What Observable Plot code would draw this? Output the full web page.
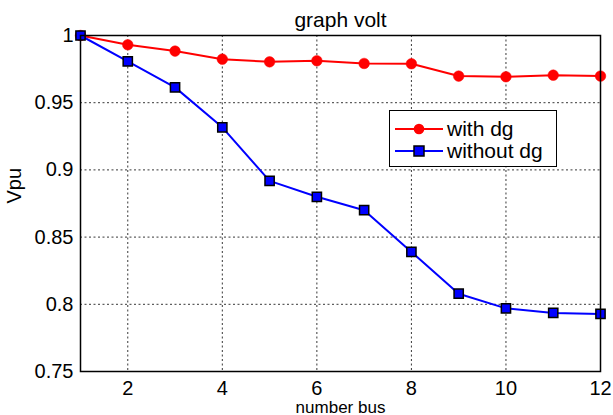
<!DOCTYPE html>
<html>
<head>
<meta charset="utf-8">
<script src="https://cdn.jsdelivr.net/npm/d3@7"></script>
<script src="https://cdn.jsdelivr.net/npm/@observablehq/plot@0.6"></script>
<style>
  html, body { margin: 0; padding: 0; background: white; }
  #wrap { position: relative; width: 613px; height: 415px; font-family: "Liberation Sans", Arial, sans-serif; }
  #legend { position: absolute; left: 389px; top: 110px; width: 166px; height: 55px; border: 1px solid black; background: white; }
  .row { position: absolute; left: 0; height: 22px; display: flex; align-items: center; font-size: 21px; }
  .row svg { margin-left: 5px; margin-right: 4px; }
</style>
</head>
<body>
<div id="wrap"></div>
<script>
const bus = [1, 2, 3, 4, 5, 6, 7, 8, 9, 10, 11, 12];
const withDg = [1.0, 0.9931, 0.9884, 0.9824, 0.9804, 0.9812, 0.9792, 0.979, 0.9698, 0.9693, 0.9705, 0.9698];
const withoutDg = [1.0, 0.9807, 0.9614, 0.9317, 0.8918, 0.88, 0.870, 0.839, 0.8079, 0.797, 0.7936, 0.7928];
const seriesNames = ["with dg", "without dg"];
const seriesColors = ["#ff0000", "#0000ff"];
const xTicks = [2, 4, 6, 8, 10, 12];
const yTicks = [0.75, 0.8, 0.85, 0.9, 0.95, 1];
const titleText = "graph volt";
const xLabel = "number bus";
const yLabel = "Vpu";

const data = [
  ...bus.map((b, i) => ({bus: b, v: withDg[i], s: seriesNames[0]})),
  ...bus.map((b, i) => ({bus: b, v: withoutDg[i], s: seriesNames[1]}))
];
const s0 = data.filter(d => d.s === seriesNames[0]);
const s1 = data.filter(d => d.s === seriesNames[1]);

const chart = Plot.plot({
  width: 613,
  height: 415,
  marginLeft: 80,
  marginRight: 13,
  marginTop: 35,
  marginBottom: 44,
  style: {fontFamily: "Liberation Sans, Arial, sans-serif", fontSize: "20px", background: "white", color: "black"},
  x: {domain: [1, 12]},
  y: {domain: [0.75, 1]},
  marks: [
    Plot.gridX(xTicks, {stroke: "#222", strokeOpacity: 0.9, strokeDasharray: "2,2.5"}),
    Plot.gridY(yTicks, {stroke: "#222", strokeOpacity: 0.9, strokeDasharray: "2,2.5"}),
    Plot.axisX({ticks: xTicks, tickSize: 0, tickPadding: 9, label: null, fontSize: 20}),
    Plot.axisY({ticks: yTicks, tickSize: 0, tickPadding: 7, label: null, fontSize: 20, tickFormat: d => String(+d.toFixed(2))}),
    Plot.line(s0, {x: "bus", y: "v", stroke: seriesColors[0], strokeWidth: 2}),
    Plot.line(s1, {x: "bus", y: "v", stroke: seriesColors[1], strokeWidth: 2}),
    Plot.dot(s0, {x: "bus", y: "v", fill: seriesColors[0], r: 5.3, stroke: seriesColors[0], strokeWidth: 0.5}),
    Plot.dot(s1, {x: "bus", y: "v", fill: seriesColors[1], symbol: "square", r: 5.2, stroke: "black", strokeWidth: 1.5}),
    Plot.frame({stroke: "black", strokeWidth: 1.5}),
    Plot.text([titleText], {text: d => d, frameAnchor: "top", dy: -23, fontSize: 21}),
    Plot.text([xLabel], {text: d => d, frameAnchor: "bottom", dy: 41, fontSize: 17}),
    Plot.text([yLabel], {text: d => d, frameAnchor: "left", dx: -66, rotate: -90, fontSize: 20})
  ]
});
const wrap = document.getElementById("wrap");
wrap.appendChild(chart);

// legend overlay
const legend = document.createElement("div");
legend.id = "legend";
seriesNames.forEach((name, i) => {
  const row = document.createElement("div");
  row.className = "row";
  row.style.top = (7 + i * 22) + "px";
  const sym = i === 0
    ? `<circle cx="24" cy="11" r="5.3" fill="${seriesColors[i]}"/>`
    : `<rect x="19" y="6" width="10" height="10" fill="${seriesColors[i]}" stroke="black" stroke-width="1.5"/>`;
  row.innerHTML = `<svg width="48" height="22"><line x1="0" x2="48" y1="11" y2="11" stroke="${seriesColors[i]}" stroke-width="2"/>${sym}</svg><span>${name}</span>`;
  legend.appendChild(row);
});
wrap.appendChild(legend);
</script>
</body>
</html>
